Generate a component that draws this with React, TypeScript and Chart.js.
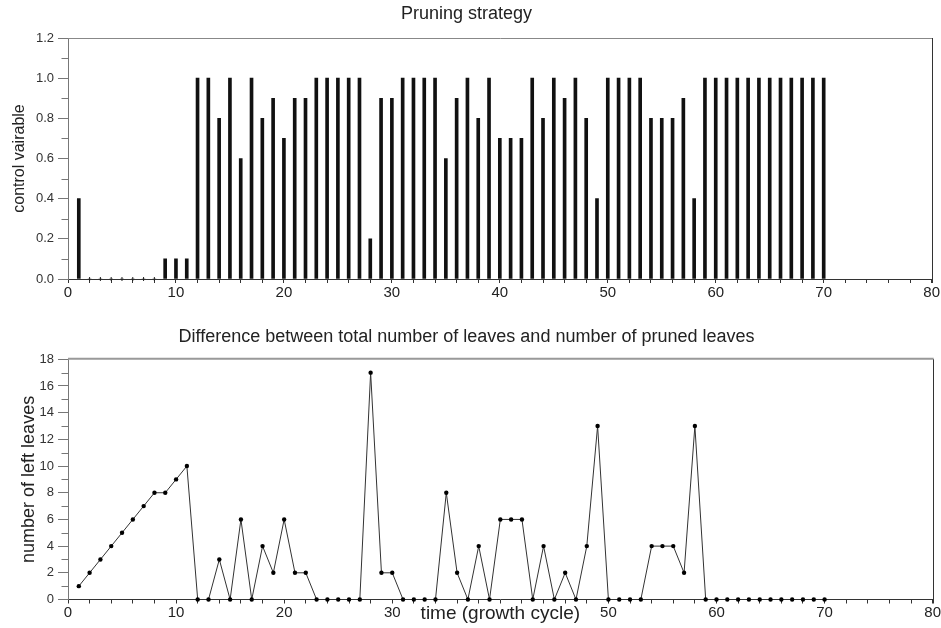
import React, { useEffect, useRef } from "react";
import { Chart, registerables } from "chart.js";

Chart.register(...registerables);

const FONT = "'Liberation Sans', Arial, Helvetica, sans-serif";
Chart.defaults.font.family = FONT;

// growth cycles (x categories)
const cycles = [
  1, 2, 3, 4, 5, 6, 7, 8, 9, 10,
  11, 12, 13, 14, 15, 16, 17, 18, 19, 20,
  21, 22, 23, 24, 25, 26, 27, 28, 29, 30,
  31, 32, 33, 34, 35, 36, 37, 38, 39, 40,
  41, 42, 43, 44, 45, 46, 47, 48, 49, 50,
  51, 52, 53, 54, 55, 56, 57, 58, 59, 60,
  61, 62, 63, 64, 65, 66, 67, 68, 69, 70,
];

// pruning strategy: control variable per cycle
const controlValues = [
  0.4, 0, 0, 0, 0, 0, 0, 0, 0.1, 0.1,
  0.1, 1, 1, 0.8, 1, 0.6, 1, 0.8, 0.9, 0.7,
  0.9, 0.9, 1, 1, 1, 1, 1, 0.2, 0.9, 0.9,
  1, 1, 1, 1, 0.6, 0.9, 1, 0.8, 1, 0.7,
  0.7, 0.7, 1, 0.8, 1, 0.9, 1, 0.8, 0.4, 1,
  1, 1, 1, 0.8, 0.8, 0.8, 0.9, 0.4, 1, 1,
  1, 1, 1, 1, 1, 1, 1, 1, 1, 1,
];

// number of left leaves per cycle
const leftLeaves = [
  1, 2, 3, 4, 5, 6, 7, 8, 8, 9,
  10, 0, 0, 3, 0, 6, 0, 4, 2, 6,
  2, 2, 0, 0, 0, 0, 0, 17, 2, 2,
  0, 0, 0, 0, 8, 2, 0, 4, 0, 6,
  6, 6, 0, 4, 0, 2, 0, 4, 13, 0,
  0, 0, 0, 4, 4, 4, 2, 13, 0, 0,
  0, 0, 0, 0, 0, 0, 0, 0, 0, 0,
];

const topTitle = "Pruning strategy";
const topYLabel = "control vairable";
const bottomTitle = "Difference between total number of leaves and number of pruned leaves";
const bottomYLabel = "number of left leaves";
const bottomXLabel = "time (growth cycle)";

const xMin = 0;
const xMax = 80;

function framePlugin(id: string, topColor: string, topWidth: number, minorStep: number) {
  return {
    id,
    afterDraw(chart: any) {
      const { ctx, chartArea: a } = chart;
      const y = chart.scales.y;
      ctx.save();
      // top border
      ctx.strokeStyle = topColor;
      ctx.lineWidth = topWidth;
      ctx.beginPath();
      const ty = topWidth > 1 ? a.top - topWidth / 2 + 0.5 : Math.round(a.top) + 0.5;
      ctx.moveTo(a.left, ty);
      ctx.lineTo(a.right + 1, ty);
      ctx.stroke();
      // right border
      ctx.strokeStyle = "#333";
      ctx.lineWidth = 1;
      const rx = Math.round(a.right) + 0.5;
      ctx.beginPath();
      ctx.moveTo(rx, a.top);
      ctx.lineTo(rx, a.bottom + 4);
      ctx.stroke();
      // minor y ticks
      ctx.strokeStyle = "#777";
      const lx = Math.round(a.left) + 0.5;
      for (let k = 1; k * minorStep < y.max; k += 2) {
        const py = Math.round(y.getPixelForValue(k * minorStep)) + 0.5;
        ctx.beginPath();
        ctx.moveTo(lx - 7, py);
        ctx.lineTo(lx, py);
        ctx.stroke();
      }
      ctx.restore();
    },
  };
}

function topConfig(): any {
  const pts = cycles.map((c, i) => ({ x: c, y: controlValues[i] }));
  return {
    type: "bar",
    data: {
      datasets: [
        {
          type: "bar",
          data: pts,
          backgroundColor: "#111",
          borderWidth: 0,
          barThickness: 3,
        },
        {
          type: "scatter",
          data: pts.filter((p) => p.y === 0),
          pointStyle: "line",
          rotation: 90,
          pointRadius: 2,
          borderColor: "#222",
          borderWidth: 1,
          clip: false,
        },
      ],
    },
    options: {
      animation: false,
      responsive: true,
      maintainAspectRatio: false,
      events: [],
      layout: { padding: { left: 0, right: 8, top: 0, bottom: 0 } },
      plugins: {
        legend: { display: false },
        tooltip: { enabled: false },
        title: {
          display: true,
          text: topTitle,
          color: "#222",
          font: { size: 18, weight: "normal", family: FONT },
          padding: { top: 3, bottom: 13.4 },
        },
      },
      scales: {
        x: {
          type: "linear",
          min: xMin,
          max: xMax,
          offset: false,
          afterFit: (s: any) => {
            s.height = 26;
          },
          border: { color: "#333", width: 1 },
          grid: { drawOnChartArea: false, tickLength: 4, color: "#333", offset: false },
          ticks: {
            stepSize: 2,
            autoSkip: false,
            maxRotation: 0,
            padding: 1,
            color: "#222",
            font: { size: 15, family: FONT },
            callback: (v: any) => (Number(v) % 10 === 0 ? String(v) : ""),
          },
        },
        y: {
          min: 0,
          max: 1.2,
          afterFit: (s: any) => {
            s.width = 68;
          },
          border: { color: "#777", width: 1 },
          grid: { drawOnChartArea: false, tickLength: 10, color: "#777" },
          ticks: {
            stepSize: 0.2,
            padding: 4,
            color: "#333",
            font: { size: 13, family: FONT },
            callback: (v: any) => Number(v).toFixed(1),
          },
          title: {
            display: true,
            text: topYLabel,
            color: "#222",
            font: { size: 16, family: FONT },
            padding: { top: 10, bottom: 0 },
          },
        },
      },
    },
    plugins: [framePlugin("frameTop", "#888", 1, 0.1)],
  };
}

function bottomConfig(): any {
  const pts = cycles.map((c, i) => ({ x: c, y: leftLeaves[i] }));
  return {
    type: "line",
    data: {
      datasets: [
        {
          data: pts,
          borderColor: "#333",
          borderWidth: 1,
          pointRadius: 2.2,
          pointBackgroundColor: "#000",
          pointBorderColor: "#000",
          pointBorderWidth: 0,
          tension: 0,
          clip: false,
        },
      ],
    },
    options: {
      animation: false,
      responsive: true,
      maintainAspectRatio: false,
      events: [],
      layout: { padding: { left: 0, right: 8, top: 0, bottom: 0 } },
      plugins: {
        legend: { display: false },
        tooltip: { enabled: false },
        title: {
          display: true,
          text: bottomTitle,
          color: "#222",
          font: { size: 18, weight: "normal", family: FONT },
          padding: { top: 21, bottom: 11.7 },
        },
      },
      scales: {
        x: {
          type: "linear",
          min: xMin,
          max: xMax,
          offset: false,
          afterFit: (s: any) => {
            s.height = 28.5;
          },
          border: { color: "#333", width: 1 },
          grid: { drawOnChartArea: false, tickLength: 4, color: "#333" },
          ticks: {
            stepSize: 2,
            autoSkip: false,
            maxRotation: 0,
            padding: 0,
            color: "#222",
            font: { size: 15, family: FONT },
            callback: (v: any) => (Number(v) % 10 === 0 && Number(v) !== 40 ? String(v) : ""),
          },
          title: {
            display: true,
            text: bottomXLabel,
            color: "#222",
            font: { size: 19, family: FONT },
            padding: { top: 0, bottom: 3 },
          },
        },
        y: {
          min: 0,
          max: 18,
          afterFit: (s: any) => {
            s.width = 68;
          },
          border: { color: "#777", width: 1 },
          grid: { drawOnChartArea: false, tickLength: 10, color: "#777" },
          ticks: {
            stepSize: 2,
            padding: 4,
            color: "#333",
            font: { size: 13, family: FONT },
          },
          title: {
            display: true,
            text: bottomYLabel,
            color: "#222",
            font: { size: 18, family: FONT },
            padding: { top: 18, bottom: 0 },
          },
        },
      },
    },
    plugins: [framePlugin("frameBottom", "#999", 2, 1)],
  };
}

export default function App() {
  const topRef = useRef<HTMLCanvasElement>(null);
  const botRef = useRef<HTMLCanvasElement>(null);

  useEffect(() => {
    const c1 = new Chart(topRef.current as HTMLCanvasElement, topConfig());
    const c2 = new Chart(botRef.current as HTMLCanvasElement, bottomConfig());
    return () => {
      c1.destroy();
      c2.destroy();
    };
  }, []);

  return (
    <div style={{ position: "fixed", left: 0, top: 0, width: 941, height: 628, background: "#fff" }}>
      <div style={{ position: "absolute", left: 0, top: 0, width: 941, height: 305 }}>
        <canvas ref={topRef} />
      </div>
      <div style={{ position: "absolute", left: 0, top: 305, width: 941, height: 323 }}>
        <canvas ref={botRef} />
      </div>
    </div>
  );
}
